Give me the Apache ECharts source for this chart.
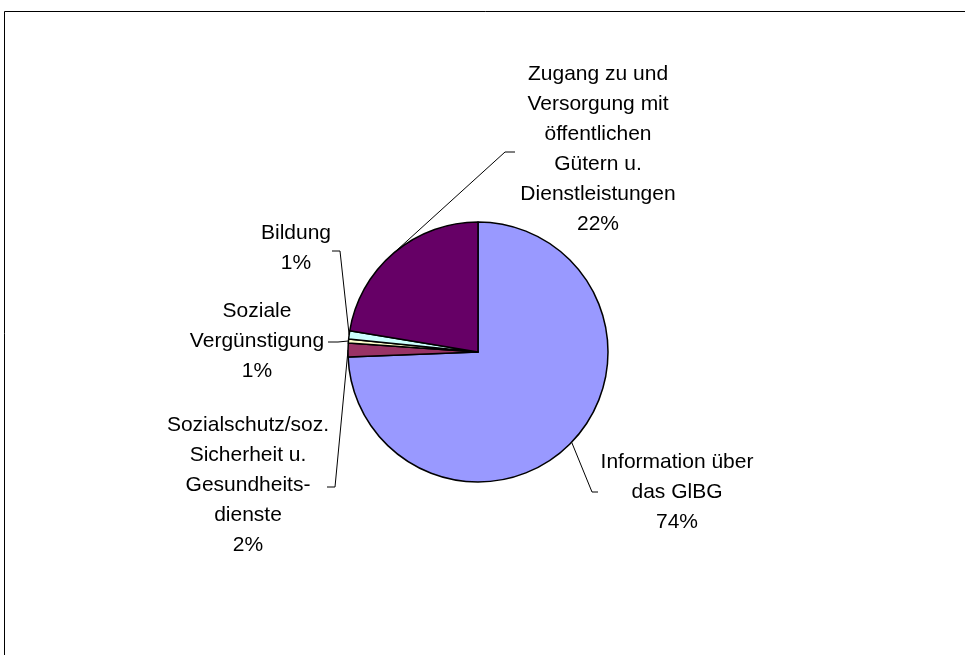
<!DOCTYPE html>
<html>
<head>
    <meta charset="utf-8">
    <script src="https://cdn.jsdelivr.net/npm/echarts@6/dist/echarts.min.js"></script>
    <title>GlBG Anfragen</title>
    <style>
        html, body { margin: 0; padding: 0; background: #fff; }
    </style>
</head>
<body>
    <div id="main" style="width:965px; height:655px;"></div>
    <script type="text/javascript">
        // data (clockwise from 12 o'clock)
        var categories = [
            'Information über\ndas GlBG',
            'Sozialschutz/soz.\nSicherheit u.\nGesundheits-\ndienste',
            'Soziale\nVergünstigung',
            'Bildung',
            'Zugang zu und\nVersorgung mit\nöffentlichen\nGütern u.\nDienstleistungen'
        ];
        var values = [74.4, 1.7, 0.5, 1.0, 22.4];
        var colors = ['#9999FF', '#993366', '#FFFFCC', '#CCFFFF', '#660066'];

        // where each label sits, and the bend of its leader line
        var labelPos = [
            { x: 677, y: 492, knee: [592, 492], end: [598, 492] },
            { x: 248, y: 485, knee: [335, 487], end: [327, 487] },
            { x: 257, y: 341, knee: [338, 342], end: [328, 342] },
            { x: 296, y: 248, knee: [340, 251], end: [332, 251] },
            { x: 598, y: 149, knee: [505, 152], end: [515, 152] }
        ];

        var pieData = [];
        for (var i = 0; i < categories.length; i++) {
            pieData.push({ name: categories[i], value: values[i], itemStyle: { color: colors[i] } });
        }

        var myChart = echarts.init(document.getElementById('main'));
        var option = {
            backgroundColor: '#fff',
            animation: false,
            graphic: [{
                type: 'rect',
                shape: { x: 4.5, y: 11.5, width: 1000, height: 700 },
                style: { fill: 'none', stroke: '#000', lineWidth: 1 },
                z: 0
            }],
            series: [{
                type: 'pie',
                center: [478, 352],
                radius: 130,
                startAngle: 90,
                clockwise: true,
                percentPrecision: 0,
                data: pieData,
                itemStyle: { borderColor: '#000', borderWidth: 1.5 },
                label: {
                    show: true,
                    formatter: '{b}\n{d}%',
                    fontFamily: 'Liberation Sans, Arial, sans-serif',
                    fontSize: 21,
                    lineHeight: 30,
                    color: '#000',
                    align: 'center'
                },
                labelLine: {
                    show: true,
                    length: 10,
                    length2: 10,
                    lineStyle: { color: '#000', width: 1 }
                },
                labelLayout: function (params) {
                    var p = labelPos[params.dataIndex];
                    var start = params.labelLinePoints ? params.labelLinePoints[0] : p.knee;
                    return {
                        x: p.x,
                        y: p.y,
                        align: 'center',
                        verticalAlign: 'middle',
                        labelLinePoints: [start, p.knee, p.end]
                    };
                },
                emphasis: { disabled: true }
            }]
        };
        myChart.setOption(option);
    </script>
</body>
</html>
